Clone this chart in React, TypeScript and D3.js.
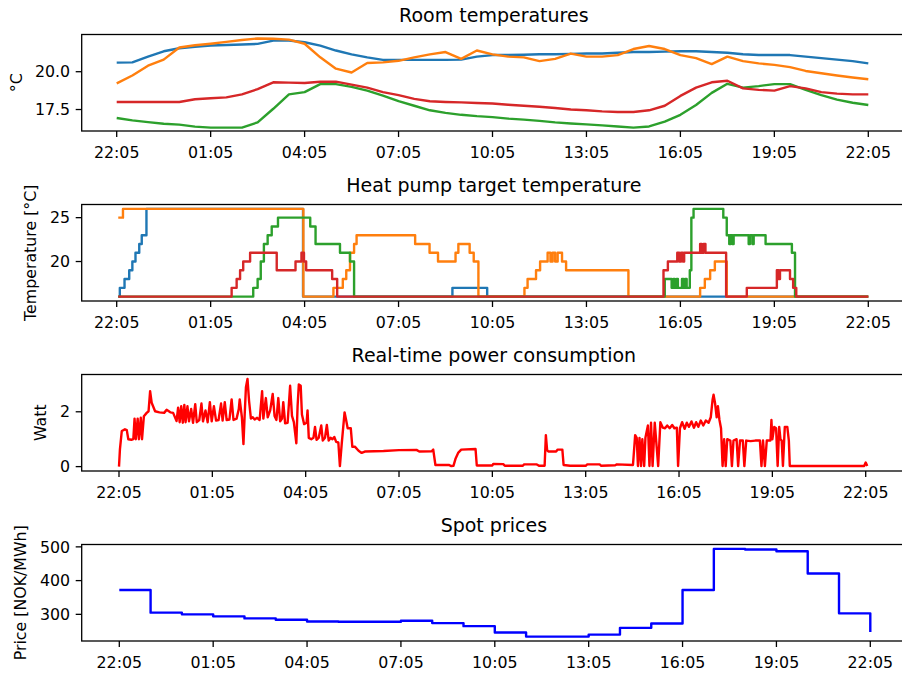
import React from 'react';
import * as d3 from 'd3';

// hours after 22:05
const tickHours = [0, 3, 6, 9, 12, 15, 18, 21, 24];
const tickLabels = ['22:05', '01:05', '04:05', '07:05', '10:05', '13:05', '16:05', '19:05', '22:05'];

// room temperatures, every half hour
const roomHours = [0, 0.5, 1, 1.5, 2, 2.5, 3, 3.5, 4, 4.5, 5, 5.5, 6, 6.5, 7, 7.5, 8, 8.5, 9, 9.5, 10, 10.5, 11, 11.5, 12,
  12.5, 13, 13.5, 14, 14.5, 15, 15.5, 16, 16.5, 17, 17.5, 18, 18.5, 19, 19.5, 20, 20.5, 21, 21.5, 22, 22.5, 23, 23.5, 24];
const roomBlue = [20.6, 20.62, 21.0, 21.35, 21.55, 21.65, 21.73, 21.77, 21.8, 21.84, 22.06, 22.06, 21.95, 21.72, 21.4, 21.15,
  20.95, 20.78, 20.78, 20.78, 20.78, 20.78, 20.8, 21.0, 21.1, 21.1, 21.12, 21.15, 21.15, 21.18, 21.2, 21.2, 21.25, 21.3,
  21.3, 21.33, 21.35, 21.35, 21.3, 21.25, 21.15, 21.1, 21.1, 21.1, 21.0, 20.9, 20.8, 20.7, 20.55];
const roomOrange = [19.23, 19.75, 20.4, 20.8, 21.6, 21.75, 21.85, 21.97, 22.1, 22.2, 22.18, 22.12, 21.85, 20.95, 20.2, 19.95,
  20.58, 20.62, 20.72, 20.95, 21.15, 21.3, 20.85, 21.4, 21.15, 21.0, 20.95, 20.7, 20.85, 21.2, 21.0, 21.0, 21.1, 21.5, 21.7,
  21.5, 21.1, 20.9, 20.5, 21.0, 20.7, 20.55, 20.45, 20.3, 20.05, 19.9, 19.75, 19.62, 19.5];
const roomGreen = [16.94, 16.78, 16.67, 16.56, 16.5, 16.37, 16.3, 16.3, 16.3, 16.65, 17.55, 18.5, 18.65, 19.18, 19.18, 19.0,
  18.75, 18.42, 18.05, 17.75, 17.45, 17.28, 17.15, 17.06, 17.0, 16.9, 16.83, 16.75, 16.65, 16.58, 16.52, 16.45, 16.38, 16.3,
  16.38, 16.7, 17.15, 17.8, 18.6, 19.2, 18.95, 19.05, 19.18, 19.18, 18.8, 18.45, 18.15, 17.95, 17.8];
const roomRed = [18.0, 18.0, 18.0, 18.0, 18.0, 18.18, 18.25, 18.3, 18.5, 18.85, 19.3, 19.28, 19.25, 19.34, 19.34, 19.15,
  18.95, 18.65, 18.45, 18.2, 18.05, 18.0, 17.97, 17.93, 17.9, 17.82, 17.75, 17.68, 17.6, 17.5, 17.45, 17.38, 17.34, 17.34,
  17.45, 17.75, 18.4, 18.95, 19.3, 19.4, 18.9, 18.8, 18.75, 19.05, 18.9, 18.65, 18.55, 18.5, 18.5];

// heat pump set points (steps)
const hpBlueHours = [0.05, 0.1, 0.25, 0.4, 0.5, 0.6, 0.72, 0.8, 0.95, 5.95, 10.72, 11.83, 24.0];
const hpBlueTemps = [16, 17, 18, 19, 20, 21, 22, 23, 26, 16, 17, 16, 16];
const hpOrangeHours = [0.05, 0.2, 5.96, 6.92, 7.22, 7.33, 7.45, 7.58, 7.66, 9.53, 9.99, 10.26, 10.82, 10.91, 11.27, 11.4,
  11.55, 13.02, 13.12, 13.39, 13.52, 13.76, 13.85, 13.92, 14.0, 14.08, 14.22, 14.35, 16.34, 18.63, 18.78, 18.95, 19.1,
  19.48, 24.0];
const hpOrangeTemps = [25, 26, 16, 17, 18, 19, 21, 22, 23, 22, 21, 20, 21, 22, 21, 20, 16, 17, 18, 19, 20, 21, 20, 21, 20,
  21, 20, 19, 16, 17, 18, 19, 20, 16, 16];
const hpGreenHours = [0.05, 4.36, 4.5, 4.6, 4.7, 4.82, 4.95, 5.15, 6.18, 6.35, 7.13, 7.45, 7.58, 17.5, 17.72, 17.78, 17.82,
  17.88, 17.92, 18.05, 18.1, 18.15, 18.2, 18.3, 18.35, 18.42, 19.37, 19.48, 19.56, 19.6, 19.66, 19.7, 20.18, 20.22, 20.3,
  20.34, 20.72, 21.56, 21.66, 24.0];
const hpGreenTemps = [16, 17, 18, 20, 22, 23, 24, 25, 24, 22, 21, 20, 16, 18, 17, 18, 17, 18, 17, 18, 17, 18, 17, 19, 25,
  26, 25, 23, 22, 23, 22, 23, 22, 23, 22, 23, 22, 21, 16, 16];
const hpRedHours = [0.05, 3.67, 3.83, 3.94, 4.04, 4.26, 5.11, 5.71, 5.9, 5.98, 6.05, 6.88, 7.04, 17.46, 17.6, 17.9, 17.96,
  18.02, 18.08, 18.12, 18.63, 18.68, 18.74, 18.8, 19.46, 20.12, 21.08, 21.13, 21.18, 21.5, 21.6, 21.7, 24.0];
const hpRedTemps = [16, 17, 18, 19, 20, 21, 19, 20, 21, 20, 19, 18, 16, 19, 20, 21, 20, 21, 20, 21, 22, 21, 22, 21, 16, 17,
  19, 18, 19, 18, 17, 16, 16];

// real-time power
const powerHours = [
  0, 0.03, 0.09, 0.19, 0.25, 0.3, 0.4, 0.46, 0.5, 0.54,
  0.6, 0.64, 0.7, 0.74, 0.8, 0.89, 0.95, 1.0, 1.05, 1.16,
  1.3, 1.45, 1.53, 1.65, 1.74, 1.85, 1.9, 1.95, 2.0, 2.05,
  2.1, 2.14, 2.2, 2.25, 2.32, 2.38, 2.45, 2.5, 2.58, 2.65,
  2.7, 2.78, 2.85, 2.92, 2.98, 3.05, 3.12, 3.2, 3.28, 3.33,
  3.4, 3.46, 3.55, 3.62, 3.68, 3.78, 3.85, 3.88, 3.95, 4.0,
  4.04, 4.08, 4.13, 4.18, 4.24, 4.3, 4.36, 4.44, 4.52, 4.6,
  4.64, 4.72, 4.78, 4.86, 4.94, 5.0, 5.06, 5.12, 5.18, 5.24,
  5.28, 5.34, 5.42, 5.5, 5.56, 5.62, 5.7, 5.74, 5.78, 5.84,
  5.88, 5.95, 6.03, 6.06, 6.1, 6.18, 6.25, 6.3, 6.35, 6.42,
  6.5, 6.55, 6.62, 6.68, 6.74, 6.8, 6.86, 6.92, 6.98, 7.05,
  7.1, 7.16, 7.25, 7.3, 7.35, 7.45, 7.5, 7.58, 7.7, 7.8,
  7.9, 8.5, 9.0, 9.56, 9.65, 10.05, 10.1, 10.17, 10.6, 10.68,
  10.75, 10.82, 10.9, 11.0, 11.46, 11.5, 12.0, 12.03, 12.35, 12.4,
  12.98, 13.02, 13.43, 13.5, 13.68, 13.72, 13.76, 13.8, 14.05, 14.1,
  14.25, 14.29, 14.5, 15.0, 15.05, 15.45, 15.5, 15.95, 16.0, 16.52,
  16.59, 16.64, 16.68, 16.73, 16.78, 16.82, 16.88, 16.92, 17.0, 17.05,
  17.1, 17.15, 17.22, 17.33, 17.4, 17.48, 17.55, 17.62, 17.7, 17.78,
  17.85, 17.93, 17.97, 18.03, 18.1, 18.18, 18.25, 18.32, 18.4, 18.48,
  18.55, 18.62, 18.7, 18.78, 18.86, 18.95, 19.02, 19.08, 19.11, 19.16,
  19.21, 19.25, 19.3, 19.35, 19.4, 19.45, 19.5, 19.55, 19.65, 19.7,
  19.75, 19.85, 19.9, 19.96, 20.05, 20.1, 20.16, 20.3, 20.45, 20.6,
  20.65, 20.7, 20.76, 20.82, 20.94, 20.97, 21.0, 21.06, 21.12, 21.17,
  21.22, 21.26, 21.3, 21.34, 21.4, 21.48, 21.53, 21.56, 22.0, 23.0,
  23.95, 24.0, 24.05];
const powerWatts = [
  0, 0.63, 1.3, 1.36, 1.33, 1.0, 0.98, 1.0, 1.75, 1.0,
  1.75, 1.0, 1.78, 1.0, 1.84, 1.96, 2.02, 2.75, 2.33, 2.02,
  1.98, 1.96, 2.07, 1.98, 1.96, 1.66, 2.15, 1.62, 2.2, 1.6,
  2.25, 1.62, 2.2, 1.65, 2.1, 1.6, 2.28, 1.62, 1.7, 2.3,
  1.65, 2.05, 1.62, 2.35, 1.65, 2.2, 1.68, 1.7, 2.3, 1.68,
  2.35, 1.7, 1.72, 2.45, 1.7, 1.75, 2.1, 2.45, 1.8, 0.82,
  1.9, 2.9, 3.2, 2.4, 1.75, 1.8, 1.72, 1.78, 1.7, 2.75,
  1.75, 2.5, 1.8, 2.05, 2.65, 1.85, 1.7, 2.5, 1.65, 1.75,
  2.35, 1.58, 1.6, 2.95, 1.85, 1.62, 0.85, 2.2, 3.0, 2.95,
  1.9, 1.55, 1.6, 2.05, 1.05, 1.0, 1.05, 1.45, 0.98, 1.05,
  1.5, 0.95, 1.05, 1.52, 0.95, 1.05, 1.0, 1.08, 0.9, 0.88,
  0.02, 0.85, 1.98, 1.7, 1.4, 1.4, 0.72, 0.73, 0.58, 0.5,
  0.55, 0.57, 0.6, 0.61, 0.55, 0.56, 0.62, 0.06, 0.06, 0.02,
  0.03, 0.3, 0.5, 0.62, 0.64, 0.04, 0.04, 0.1, 0.09, 0.03,
  0.03, 0.08, 0.08, 0.03, 0.03, 1.15, 0.6, 0.55, 0.55, 0.62,
  0.62, 0.06, 0.03, 0.03, 0.08, 0.08, 0.03, 0.05, 0.08, 0.06,
  1.15, 1.05, 0.02, 1.05, 0.02, 1.0, 0.02, 1.05, 1.5, 0.02,
  1.6, 0.02, 1.6, 0.02, 1.62, 1.42, 1.4, 1.5, 1.4, 1.52,
  1.4, 1.42, 0.02, 1.4, 1.62, 1.38, 1.6, 1.45, 1.65, 1.42,
  1.62, 1.45, 1.68, 1.5, 1.68, 1.6, 1.8, 2.45, 2.62, 2.3,
  1.8, 2.2, 1.7, 1.4, 0.02, 1.0, 0.02, 1.0, 0.95, 0.02,
  0.95, 1.0, 0.02, 0.95, 0.95, 0.02, 0.95, 0.93, 0.95, 0.95,
  0.02, 0.95, 0.02, 0.95, 0.95, 1.7, 1.0, 1.45, 1.4, 0.02,
  1.45, 1.0, 0.95, 0.02, 1.45, 1.45, 0.95, 0.02, 0.02, 0.02,
  0.02, 0.15, 0.02];

// hourly spot prices
const priceHours = [0, 1, 2, 3, 4, 5, 6, 7, 8, 9, 10, 11, 12, 13, 14, 15, 16, 17, 18, 19, 20, 21, 22, 23, 24];
const priceNok = [372, 305, 300, 294, 288, 284, 279, 278, 278, 281, 274, 265, 246, 234, 234, 240, 260, 273, 372, 494, 492,
  487, 421, 303, 248];

type Series = { hours: number[], values: number[], color: string, step?: boolean };

type PanelProps = {
  id: string,
  top: number,
  title: string,
  yLabel: string,
  yLabelX: number,
  yDomain: number[],
  yTicks: number[],
  yFormat: (v: number) => string,
  xAt0: number,
  xAt24: number,
  series: Series[],
};

const width = 902;
const height = 674;
const axLeft = 81.7;
const axRight = 906;
const axHeight = 96.5;
const font = 'DejaVu Sans, sans-serif';
const tickSize = 15.8;

const Panel: React.FC<PanelProps> = ({ id, top, title, yLabel, yLabelX, yDomain, yTicks, yFormat, xAt0, xAt24, series }) => {
  const bottom = top + axHeight;
  const xScale = d3.scaleLinear().domain([0, 24]).range([xAt0, xAt24]);
  const yScale = d3.scaleLinear().domain(yDomain).range([bottom, top]);
  return (
    <g>
      <defs>
        <clipPath id={id}>
          <rect x={axLeft} y={top} width={axRight - axLeft} height={axHeight} />
        </clipPath>
      </defs>
      <g clipPath={`url(#${id})`}>
        {series.map((s, i) => {
          const line = d3.line<number>()
            .x((_, j) => xScale(s.hours[j]))
            .y(v => yScale(v))
            .curve(s.step ? d3.curveStepAfter : d3.curveLinear);
          return <path key={i} d={line(s.values) || ''} fill="none" stroke={s.color} strokeWidth={2.4}
            strokeLinejoin="round" />;
        })}
      </g>
      <rect x={axLeft} y={top} width={axRight - axLeft} height={axHeight} fill="none" stroke="black" strokeWidth={1.3} />
      {tickHours.map((h, i) => (
        <g key={h} transform={`translate(${xScale(h)}, ${bottom})`}>
          <line y2={6} stroke="black" strokeWidth={1.3} />
          <text y={26.8} textAnchor="middle" fontSize={tickSize} fontFamily={font}>{tickLabels[i]}</text>
        </g>
      ))}
      {yTicks.map(v => (
        <g key={v} transform={`translate(${axLeft}, ${yScale(v)})`}>
          <line x2={-6} stroke="black" strokeWidth={1.3} />
          <text x={-11.6} dy="0.36em" textAnchor="end" fontSize={tickSize} fontFamily={font}>{yFormat(v)}</text>
        </g>
      ))}
      <text x={(axLeft + axRight) / 2} y={top - 12.5} textAnchor="middle" fontSize={19} fontFamily={font}>{title}</text>
      <g transform={`translate(${yLabelX}, ${top + axHeight / 2})`}>
        <text transform="rotate(-90)" dy="0.35em" textAnchor="middle" fontSize={tickSize} fontFamily={font}>{yLabel}</text>
      </g>
    </g>
  );
};

const App: React.FC = () => {
  return (
    <svg width={width} height={height} style={{ position: 'absolute', left: 0, top: 0, background: 'white' }}>
      <Panel id="p1" top={34.5} title="Room temperatures" yLabel="°C" yLabelX={16.5}
        yDomain={[16.08, 22.46]} yTicks={[17.5, 20.0]} yFormat={v => v.toFixed(1)}
        xAt0={116.7} xAt24={868.3}
        series={[
          { hours: roomHours, values: roomBlue, color: '#1f77b4' },
          { hours: roomHours, values: roomOrange, color: '#ff7f0e' },
          { hours: roomHours, values: roomGreen, color: '#2ca02c' },
          { hours: roomHours, values: roomRed, color: '#d62728' },
        ]} />
      <Panel id="p2" top={204.5} title="Heat pump target temperature" yLabel="Temperature [°C]" yLabelX={30}
        yDomain={[15.5, 26.5]} yTicks={[20, 25]} yFormat={v => String(v)}
        xAt0={116.7} xAt24={868.3}
        series={[
          { hours: hpBlueHours, values: hpBlueTemps, color: '#1f77b4', step: true },
          { hours: hpOrangeHours, values: hpOrangeTemps, color: '#ff7f0e', step: true },
          { hours: hpGreenHours, values: hpGreenTemps, color: '#2ca02c', step: true },
          { hours: hpRedHours, values: hpRedTemps, color: '#d62728', step: true },
        ]} />
      <Panel id="p3" top={374.5} title="Real-time power consumption" yLabel="Watt" yLabelX={40}
        yDomain={[-0.16, 3.36]} yTicks={[0, 2]} yFormat={v => String(v)}
        xAt0={119.0} xAt24={865.7}
        series={[{ hours: powerHours, values: powerWatts, color: '#ff0000' }]} />
      <Panel id="p4" top={544.5} title="Spot prices" yLabel="Price [NOK/MWh]" yLabelX={20}
        yDomain={[221, 507]} yTicks={[300, 400, 500]} yFormat={v => String(v)}
        xAt0={119.3} xAt24={870.3}
        series={[{ hours: priceHours, values: priceNok, color: '#0000ff', step: true }]} />
    </svg>
  );
};

export default App;
